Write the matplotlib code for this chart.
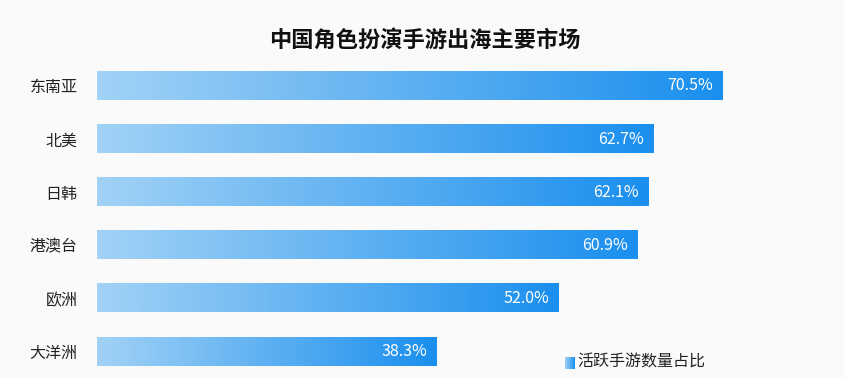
import numpy as np
import matplotlib.pyplot as plt
from matplotlib.colors import LinearSegmentedColormap

plt.rcParams['font.family'] = ['Noto Sans CJK SC', 'DejaVu Sans']

# data
regions = ["东南亚", "北美", "日韩", "港澳台", "欧洲", "大洋洲"]
shares = [70.5, 62.7, 62.1, 60.9, 52.0, 38.3]
title = "中国角色扮演手游出海主要市场"
legend_label = "活跃手游数量占比"

bg = "#fafafa"
cmap = LinearSegmentedColormap.from_list("blu", ["#a2d2f6", "#1a8fee"])
grad = np.linspace(0, 1, 256).reshape(1, -1)

W, H = 844, 378
fig = plt.figure(figsize=(W / 100, H / 100), dpi=100, facecolor=bg)
ax = fig.add_axes([97 / W, 0, (807 - 97) / W, (H - 59.4) / H])
ax.set_facecolor(bg)

bar_h = 0.53
for i, (name, v) in enumerate(zip(regions, shares)):
    ax.imshow(grad, cmap=cmap, aspect="auto",
              extent=[0, v, i + bar_h / 2, i - bar_h / 2], zorder=2)
    ax.annotate(f"{v:.1f}%", (v, i), xytext=(-7, 0), textcoords="offset points",
                color="white", fontsize=11.5, ha="right", va="center", zorder=3)

ax.set_xlim(0, 80)
ax.set_ylim(len(regions) - 0.5, -0.5)
ax.set_yticks(range(len(regions)))
ax.set_yticklabels(regions, fontsize=11.5, color="#222222")
ax.tick_params(axis="y", length=0, pad=14)
ax.set_xticks([])
for s in ax.spines.values():
    s.set_visible(False)

fig.text(425 / W, 1 - 40 / H, title, ha="center", va="center",
         fontsize=16, fontweight="heavy", color="#111111")

# legend swatch with gradient
lax = fig.add_axes([565 / W, 1 - 369 / H, 10 / W, 12 / H])
lax.imshow(grad, cmap=cmap, aspect="auto")
lax.axis("off")
fig.text(577 / W, 1 - 362 / H, legend_label, ha="left", va="center",
         fontsize=11.5, color="#222222")

fig.savefig("out.png", dpi=100, facecolor=bg)
